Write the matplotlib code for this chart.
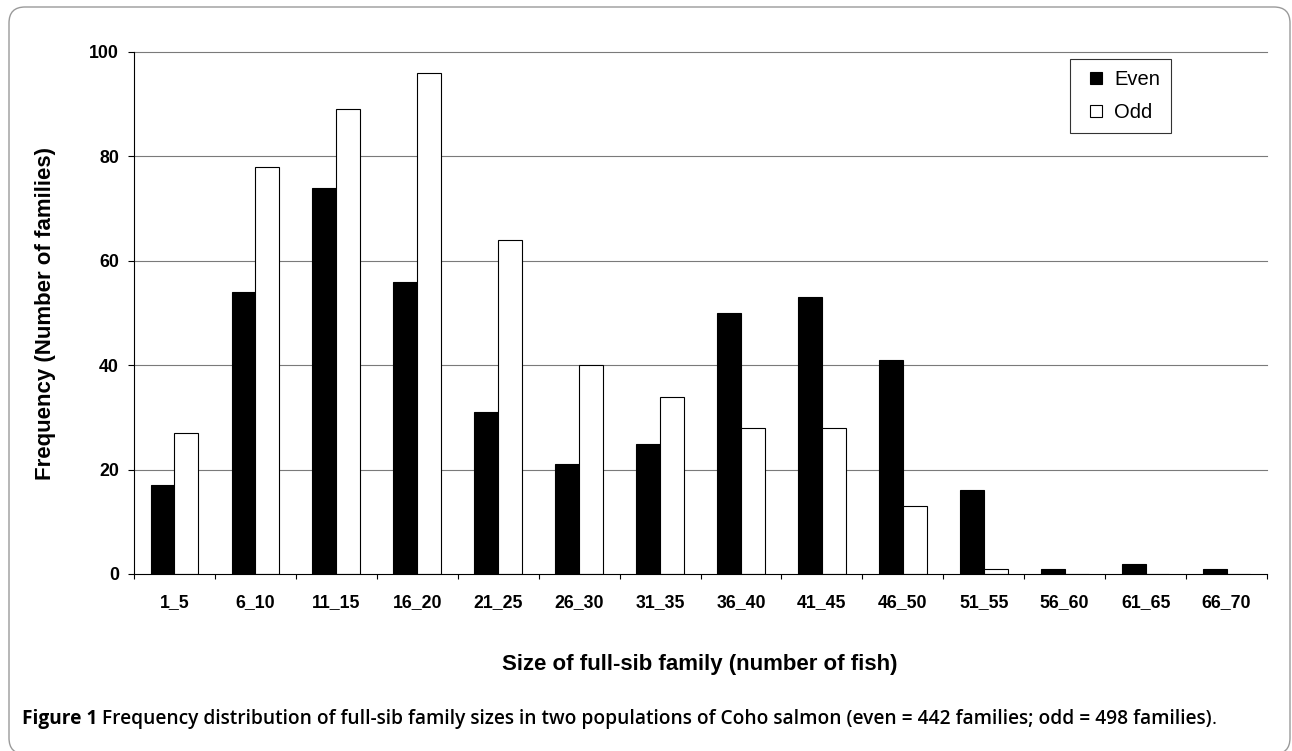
import matplotlib
matplotlib.use('Agg')
import matplotlib.pyplot as plt
import numpy as np
from matplotlib.patches import FancyBboxPatch
from matplotlib.lines import Line2D
from matplotlib.transforms import IdentityTransform

# ---- data ----
categories = ['1_5', '6_10', '11_15', '16_20', '21_25', '26_30', '31_35',
              '36_40', '41_45', '46_50', '51_55', '56_60', '61_65', '66_70']
even = [17, 54, 74, 56, 31, 21, 25, 50, 53, 41, 16, 1, 2, 1]
odd = [27, 78, 89, 96, 64, 40, 34, 28, 28, 13, 1, 0, 0, 0]
y_ticks = [0, 20, 40, 60, 80, 100]
series_names = ['Even', 'Odd']
x_label = 'Size of full-sib family (number of fish)'
y_label = 'Frequency (Number of families)'
cap_bold = 'Figure 1'
cap_main = ' Frequency distribution of full-sib family sizes in two populations of Coho salmon (even = 442 families; odd = 498 families)'
cap_end = '.'

plt.rcParams['font.family'] = ['Liberation Sans', 'DejaVu Sans']

W, H = 1292, 751
fig = plt.figure(figsize=(W / 100, H / 100), dpi=100)

# rounded frame (bottom edge runs off the picture)
frame = FancyBboxPatch((9, -3), 1281, 747, boxstyle='round,pad=0,rounding_size=16',
                       transform=IdentityTransform(), facecolor='none',
                       edgecolor='#9a9a9a', linewidth=1.0)
fig.add_artist(frame)

ax = fig.add_axes([134 / W, 1 - 574 / H, (1267 - 134) / W, (574 - 52) / H])
x = np.arange(len(categories)) + 0.5
bw = 0.295
ax.bar(x - bw / 2, even, bw, color='black', edgecolor='black', linewidth=0.8, zorder=3)
ax.bar(x + bw / 2, odd, bw, color='white', edgecolor='black', linewidth=0.8, zorder=3)

ax.set_xlim(0, len(categories))
ax.set_ylim(y_ticks[0], y_ticks[-1])
for v in y_ticks[1:]:
    ax.axhline(v, color='#7a7a7a', linewidth=0.8, zorder=0, clip_on=False)

for s in ['top', 'right']:
    ax.spines[s].set_visible(False)
for s in ['left', 'bottom']:
    ax.spines[s].set_color('black')
    ax.spines[s].set_linewidth(0.8)
    ax.spines[s].set_zorder(4)

ax.set_yticks(y_ticks)
ax.set_yticklabels([str(v) for v in y_ticks], fontsize=12.8, fontweight='bold')
ax.tick_params(axis='y', length=4.3, width=0.8, direction='out', pad=6.5)

ax.set_xticks(np.arange(len(categories) + 1))
ax.set_xticklabels([])
ax.tick_params(axis='x', which='major', length=3.8, width=0.8, direction='out')
ax.set_xticks(x, minor=True)
ax.set_xticklabels(categories, minor=True, fontsize=12.8, fontweight='bold')
ax.tick_params(axis='x', which='minor', length=0, pad=14.5)

# axis titles
fig.text(700 / W, 1 - 670 / H, x_label, ha='center', va='baseline',
         fontsize=16, fontweight='bold')
fig.text(51 / W, 1 - 313 / H, y_label, rotation=90, rotation_mode='anchor',
         ha='center', va='baseline', fontsize=16, fontweight='bold')

# legend
handles = [Line2D([], [], linestyle='none', marker='s', markersize=9.2,
                  markerfacecolor='black', markeredgecolor='black', markeredgewidth=0.8),
           Line2D([], [], linestyle='none', marker='s', markersize=9.2,
                  markerfacecolor='white', markeredgecolor='black', markeredgewidth=0.8)]
leg = fig.legend(handles, series_names, loc='upper left',
                 bbox_to_anchor=(1070 / W, 1 - 59 / H), bbox_transform=fig.transFigure,
                 borderaxespad=0, fancybox=False, frameon=True, fontsize=14.5,
                 borderpad=0.55, handlelength=1.5, handletextpad=0.15, labelspacing=0.7)
leg.get_frame().set_edgecolor('black')
leg.get_frame().set_linewidth(0.8)

# caption
cap_family = ['Open Sans', 'DejaVu Sans']
renderer = fig.canvas.get_renderer()
t1 = fig.text(22 / W, 1 - 724 / H, cap_bold, fontsize=13, fontweight='bold',
              family=cap_family, va='baseline')
t2 = fig.text(0, 1 - 724 / H, cap_main, fontsize=13, fontweight='semibold',
              family=cap_family, va='baseline')
t3 = fig.text(0, 1 - 724 / H, cap_end, fontsize=13, fontweight='normal',
              family=cap_family, va='baseline')
target = 1220 - 22
for _ in range(3):
    w1 = t1.get_window_extent(renderer).width
    w2 = t2.get_window_extent(renderer).width
    w3 = t3.get_window_extent(renderer).width
    total = w1 + w2 + w3
    fs = t1.get_fontsize() * target / total
    for t in (t1, t2, t3):
        t.set_fontsize(fs)
w1 = t1.get_window_extent(renderer).width
t2.set_x((22 + w1) / W)
w2 = t2.get_window_extent(renderer).width
t3.set_x((22 + w1 + w2) / W)

fig.savefig('out.png', dpi=100)
